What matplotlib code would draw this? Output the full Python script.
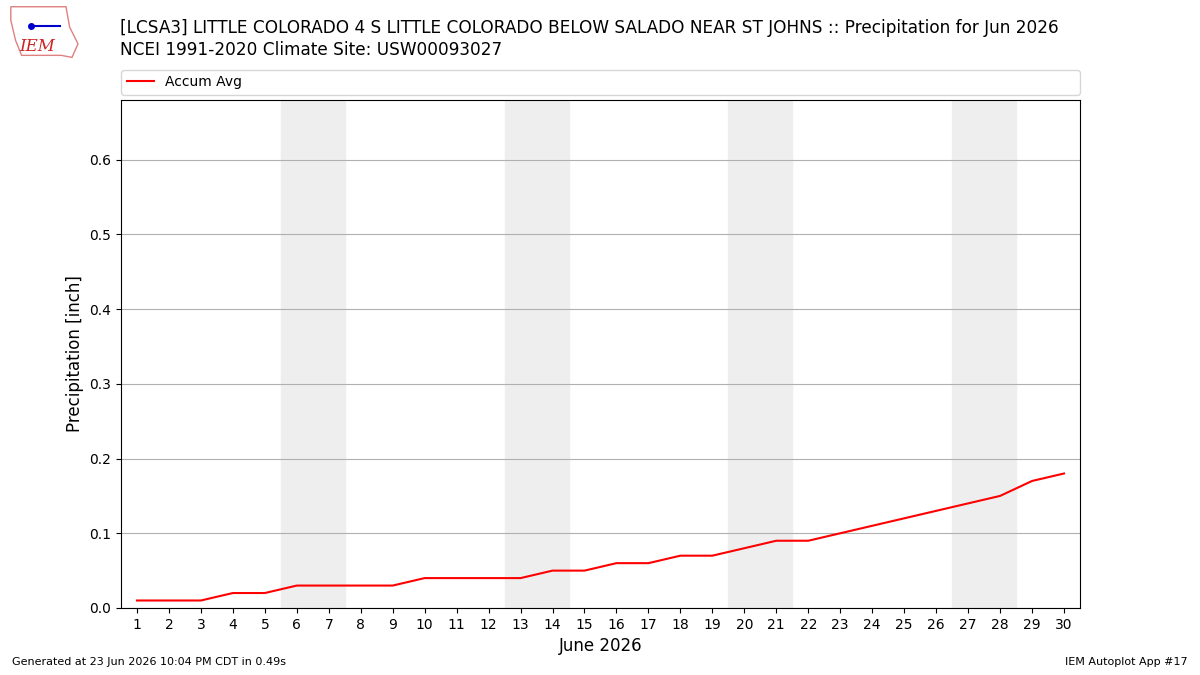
import matplotlib
matplotlib.use("Agg")
import matplotlib.pyplot as plt

# Daily accumulated average precipitation for June (inch)
days = list(range(1, 31))
accum_avg = [0.01, 0.01, 0.01, 0.02, 0.02, 0.03, 0.03, 0.03, 0.03, 0.04,
             0.04, 0.04, 0.04, 0.05, 0.05, 0.06, 0.06, 0.07, 0.07, 0.08,
             0.09, 0.09, 0.10, 0.11, 0.12, 0.13, 0.14, 0.15, 0.17, 0.18]
# weekends (Sat, Sun) to shade
weekends = [(6, 7), (13, 14), (20, 21), (27, 28)]

fig = plt.figure(figsize=(12, 6.75), dpi=100)
ax = fig.add_axes([0.1008, 0.0993, 0.7992, 0.7526])

for sat, sun in weekends:
    ax.axvspan(sat - 0.5, sun + 0.5, color="#eeeeee", zorder=0)

ax.plot(days, accum_avg, color="red", label="Accum Avg", zorder=3)

ax.set_xlim(0.5, 30.5)
ax.set_ylim(0, 0.68)
ax.set_xticks(days)
ax.set_yticks([0, 0.1, 0.2, 0.3, 0.4, 0.5, 0.6])
ax.tick_params(labelsize=10)
ax.grid(axis="y", color="#b0b0b0", zorder=1)
ax.set_axisbelow(True)
ax.set_xlabel("June 2026", fontsize=12)
ax.set_ylabel("Precipitation [inch]", fontsize=12)

ax.legend(loc="lower left", bbox_to_anchor=(0, 1.01, 1, 0.1), mode="expand",
          ncol=1, fontsize=10, borderaxespad=0, frameon=True)

fig.text(0.1, 0.942, "[LCSA3] LITTLE COLORADO 4 S LITTLE COLORADO BELOW SALADO NEAR ST JOHNS :: Precipitation for Jun 2026\n"
         "NCEI 1991-2020 Climate Site: USW00093027", fontsize=12.2, va="center", ha="left",
         linespacing=1.25)

# logo
fig.text(0.031, 0.931, "IEM", color="#cc2222", fontsize=12, style="italic",
         family="DejaVu Serif", ha="center", va="center")
logo = plt.Polygon([[0.009, 0.99], [0.055, 0.99], [0.058, 0.96], [0.065, 0.935],
                    [0.06, 0.915], [0.051, 0.918], [0.018, 0.918], [0.013, 0.94],
                    [0.009, 0.97]], closed=True, fill=False, edgecolor="#e08080",
                   lw=1, transform=fig.transFigure)
fig.add_artist(logo)
fig.add_artist(plt.Line2D([0.026, 0.05], [0.961, 0.961], color="#0000cc", lw=1.5,
                          marker="o", markevery=[0], ms=4,
                          transform=fig.transFigure))

fig.text(0.01, 0.015, "Generated at 23 Jun 2026 10:04 PM CDT in 0.49s", fontsize=8)
fig.text(0.99, 0.015, "IEM Autoplot App #17", fontsize=8, ha="right")

fig.savefig("out.png", dpi=100)
